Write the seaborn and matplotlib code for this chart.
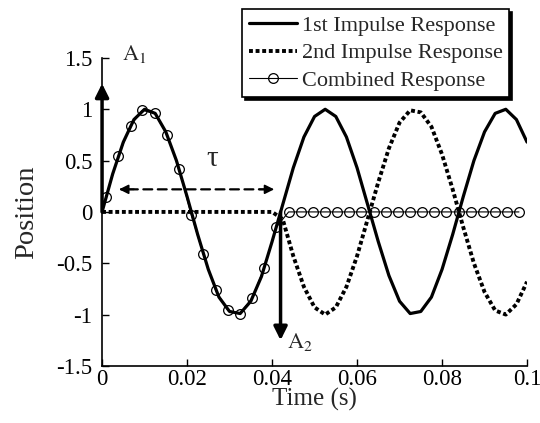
import matplotlib
matplotlib.use("Agg")
import matplotlib.pyplot as plt
import seaborn as sns
import pandas as pd

# values
time_s = [0.0, 0.0025, 0.005, 0.0075, 0.01, 0.0125, 0.015, 0.0175, 0.02, 0.0225,
          0.025, 0.0275, 0.03, 0.0325, 0.035, 0.0375, 0.04, 0.0425, 0.045, 0.0475,
          0.05, 0.0525, 0.055, 0.0575, 0.06, 0.0625, 0.065, 0.0675, 0.07, 0.0725,
          0.075, 0.0775, 0.08, 0.0825, 0.085, 0.0875, 0.09, 0.0925, 0.095, 0.0975, 0.1]
first_resp = [0.00, 0.37, 0.68, 0.90, 1.00, 0.96, 0.78, 0.50, 0.15, -0.22,
              -0.56, -0.83, -0.97, -0.99, -0.87, -0.63, -0.29, 0.07, 0.43, 0.73,
              0.93, 1.00, 0.93, 0.73, 0.43, 0.07, -0.29, -0.62, -0.87, -0.99,
              -0.97, -0.83, -0.56, -0.22, 0.15, 0.50, 0.78, 0.96, 1.00, 0.90, 0.68]
second_resp = [0.0, 0.0, 0.0, 0.0, 0.0, 0.0, 0.0, 0.0, 0.0, 0.0,
               0.0, 0.0, 0.0, 0.0, 0.0, 0.0, 0.0, -0.07, -0.43, -0.73,
               -0.93, -1.00, -0.93, -0.73, -0.43, -0.07, 0.29, 0.62, 0.87, 0.99,
               0.97, 0.83, 0.56, 0.22, -0.15, -0.50, -0.78, -0.96, -1.00, -0.90, -0.68]

comb_time = [0.001, 0.0038, 0.0067, 0.0095, 0.0124, 0.0153, 0.0181, 0.021, 0.0238, 0.0267,
             0.0296, 0.0324, 0.0353, 0.0381, 0.041, 0.0439, 0.0467, 0.0496, 0.0524, 0.0553,
             0.0581, 0.061, 0.0639, 0.0667, 0.0696, 0.0724, 0.0753, 0.0781, 0.081, 0.0839,
             0.0867, 0.0896, 0.0924, 0.0953, 0.0981]
comb_resp = [0.15, 0.54, 0.84, 0.99, 0.96, 0.75, 0.42, -0.03, -0.41, -0.76,
             -0.96, -0.99, -0.84, -0.55, -0.15, 0.0, 0.0, 0.0, 0.0, 0.0,
             0.0, 0.0, 0.0, 0.0, 0.0, 0.0, 0.0, 0.0, 0.0, 0.0,
             0.0, 0.0, 0.0, 0.0, 0.0]

x_ticks = [0, 0.02, 0.04, 0.06, 0.08, 0.1]
x_labels = ["0", "0.02", "0.04", "0.06", "0.08", "0.1"]
y_ticks = [-1.5, -1, -0.5, 0, 0.5, 1, 1.5]
y_labels = ["-1.5", "-1", "-0.5", "0", "0.5", "1", "1.5"]

lines = pd.DataFrame({"t": time_s, "first": first_resp, "second": second_resp})
comb = pd.DataFrame({"t": comb_time, "y": comb_resp})

sns.set_style("ticks")
plt.rcParams["font.family"] = ["Liberation Serif", "DejaVu Serif"]
plt.rcParams["mathtext.fontset"] = "stix"

fig = plt.figure(figsize=(5.4, 4.23), dpi=100)
ax = fig.add_axes([0.189, 0.135, 0.787, 0.728])

sns.lineplot(data=lines, x="t", y="first", ax=ax, color="black", lw=2.3,
             label="1st Impulse Response")
sns.lineplot(data=lines, x="t", y="second", ax=ax, color="black", lw=2.8,
             linestyle=(0, (1.0, 0.7)), label="2nd Impulse Response")
sns.lineplot(data=comb, x="t", y="y", ax=ax, color="black", lw=0.8,
             marker="o", markersize=7, markerfacecolor="none",
             markeredgecolor="black", markeredgewidth=0.9,
             label="Combined Response")

ax.set_xlim(0, 0.1)
ax.set_ylim(-1.5, 1.5)
ax.set_xticks(x_ticks)
ax.set_xticklabels(x_labels)
ax.set_yticks(y_ticks)
ax.set_yticklabels(y_labels)
ax.tick_params(direction="in", length=5, width=1, labelsize=16.5, colors="black")
ax.tick_params(axis="x", pad=2)
ax.tick_params(axis="y", pad=7)
for s in ["top", "right"]:
    ax.spines[s].set_visible(False)
for s in ["left", "bottom"]:
    ax.spines[s].set_color("black")
    ax.spines[s].set_linewidth(1.2)
ax.set_xlabel("Time (s)", fontsize=18, labelpad=-1)
ax.set_ylabel("Position", fontsize=20.5, labelpad=12)

# annotation arrows
ax.annotate("", xy=(0, 1.25), xytext=(0, 0),
            arrowprops=dict(arrowstyle="-|>", color="black", lw=2.5, mutation_scale=20,
                            shrinkA=0, shrinkB=0), annotation_clip=False)
ax.annotate("", xy=(0.042, -1.25), xytext=(0.042, 0),
            arrowprops=dict(arrowstyle="-|>", color="black", lw=2.5, mutation_scale=20,
                            shrinkA=0, shrinkB=0))
ax.annotate("", xy=(0.0045, 0.22), xytext=(0.039, 0.22),
            arrowprops=dict(arrowstyle="-", color="black", lw=1.6, linestyle=(0, (4, 2.5)),
                            shrinkA=0, shrinkB=0))
ax.annotate("", xy=(0.004, 0.22), xytext=(0.0075, 0.22),
            arrowprops=dict(arrowstyle="-|>", color="black", lw=1.2, mutation_scale=14,
                            shrinkA=0, shrinkB=0))
ax.annotate("", xy=(0.0405, 0.22), xytext=(0.037, 0.22),
            arrowprops=dict(arrowstyle="-|>", color="black", lw=1.2, mutation_scale=14,
                            shrinkA=0, shrinkB=0))
ax.text(0.026, 0.52, "τ", fontsize=21, ha="center", va="center")
ax.text(0.0075, 1.54, r"$\mathrm{A}_1$", fontsize=16, ha="center", va="center", clip_on=False)
ax.text(0.0465, -1.27, r"$\mathrm{A}_2$", fontsize=16, ha="center", va="center")

ax.get_legend().remove()
handles, labels = ax.get_legend_handles_labels()
leg = fig.legend(handles, labels, loc="upper left", bbox_to_anchor=(0.448, 0.979),
                 fontsize=16, frameon=True, fancybox=False, borderpad=0.3,
                 labelspacing=0.3, handlelength=2.2, handletextpad=0.2,
                 borderaxespad=0, shadow={"color": "black", "alpha": 1})
leg.get_frame().set_edgecolor("black")
leg.get_frame().set_linewidth(1.2)

fig.savefig("out.png", dpi=100)
